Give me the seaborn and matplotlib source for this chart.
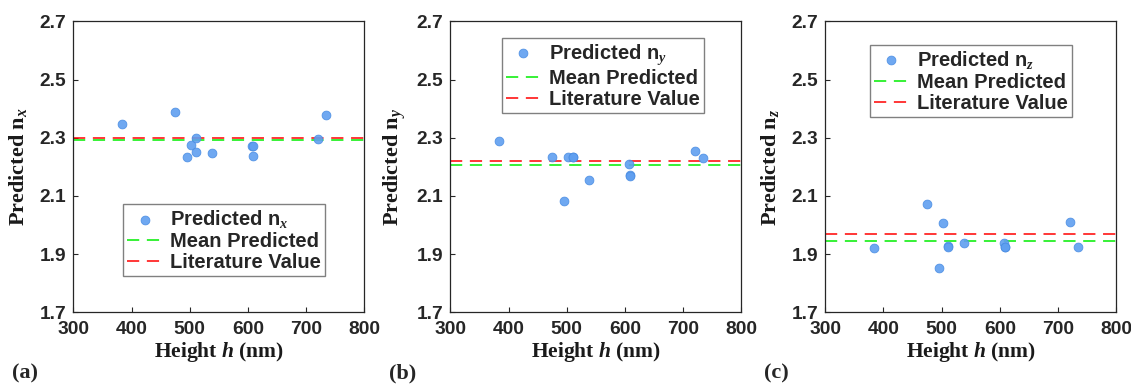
import numpy as np
import matplotlib
matplotlib.use("Agg")
import matplotlib.pyplot as plt
import seaborn as sns

# ---- data ----
heights = [383, 475, 495, 503, 510, 511, 538, 607, 608, 609, 721, 735]
n_x = [2.347, 2.389, 2.235, 2.274, 2.298, 2.250, 2.247, 2.272, 2.270, 2.236, 2.297, 2.378]
n_y = [2.289, 2.235, 2.081, 2.233, 2.233, 2.233, 2.154, 2.209, 2.172, 2.168, 2.254, 2.229]
n_z = [1.920, 2.071, 1.851, 2.008, 1.928, 1.926, 1.937, 1.937, 1.923, 1.925, 2.009, 1.924]
literature = [2.30, 2.22, 1.97]
axis_names = ["x", "y", "z"]
panel_tags = ["(a)", "(b)", "(c)"]
x_ticks = [300, 400, 500, 600, 700, 800]
y_ticks = [1.7, 1.9, 2.1, 2.3, 2.5, 2.7]

sns.set_style("white")
plt.rcParams.update({
    "font.family": ["Liberation Sans", "DejaVu Sans"],
    "font.weight": "bold",
    "mathtext.fontset": "custom",
    "mathtext.rm": "Liberation Serif:bold",
    "mathtext.it": "Liberation Serif:italic:bold",
    "mathtext.bf": "Liberation Serif:bold",
})

fig = plt.figure(figsize=(11.31, 3.85), dpi=100)
lefts = [73.3, 450.3, 825.3]
legend_centers = [(0.518, 0.248), (0.524, 0.814), (0.50, 0.796)]
W, H = 1131.0, 385.0
series = [n_x, n_y, n_z]

for i in range(3):
    ax = fig.add_axes([lefts[i] / W, (H - 312.3) / H, 291 / W, 291 / H])
    vals = series[i]
    sns.scatterplot(x=heights, y=vals, ax=ax, s=40, color="#5f9ff0",
                    edgecolor="#4a8de3", linewidth=0.6, alpha=0.9,
                    label=f"Predicted n$_{axis_names[i]}$", zorder=3)
    ax.axhline(np.mean(vals), color="#00ee00", lw=1.1, dashes=(8, 5),
               label="Mean Predicted", zorder=2)
    ax.axhline(literature[i], color="#ff0000", lw=1.1, dashes=(8, 5),
               label="Literature Value", zorder=2)
    ax.set_xlim(300, 800)
    ax.set_ylim(1.7, 2.7)
    ax.set_xticks(x_ticks)
    ax.set_yticks(y_ticks)
    ax.set_xticklabels([str(t) for t in x_ticks])
    ax.set_yticklabels([f"{t:.1f}" for t in y_ticks])
    ax.tick_params(axis="both", direction="in", length=3.5, width=0.8,
                   labelsize=13.8, colors="#262626",
                   bottom=True, left=True, top=False, right=False)
    ax.tick_params(axis="x", pad=6)
    ax.tick_params(axis="y", pad=5)
    for lab in ax.get_xticklabels() + ax.get_yticklabels():
        lab.set_fontweight("bold")
        lab.set_color("#262626")
    for sp in ax.spines.values():
        sp.set_color("#262626")
        sp.set_linewidth(0.9)
    ax.set_xlabel("Height $h$ (nm)", fontsize=15.5, family="Liberation Serif",
                  fontweight="bold", color="#1a1a1a")
    ax.set_ylabel(f"Predicted n$_{axis_names[i]}$", fontsize=16,
                  family="Liberation Serif", fontweight="bold", color="#1a1a1a")
    ax.xaxis.set_label_coords(0.5, -0.138)
    ax.xaxis.label.set_va("center")
    ax.yaxis.set_label_coords(-0.19, 0.5)
    ax.yaxis.label.set_va("center")

    leg = ax.legend(loc="center", bbox_to_anchor=legend_centers[i],
                    fancybox=False, framealpha=1, edgecolor="#808080",
                    handlelength=1.75, handletextpad=0.4,
                    borderpad=0.2, labelspacing=0.1, borderaxespad=0,
                    prop={"weight": "bold", "size": 14.5})
    leg.get_frame().set_linewidth(1.0)

    fig.text((lefts[i] - 61) / W, 0.004, panel_tags[i], fontsize=16,
             family="Liberation Serif", fontweight="bold", ha="left", va="bottom")

fig.savefig("out.png", dpi=100)
